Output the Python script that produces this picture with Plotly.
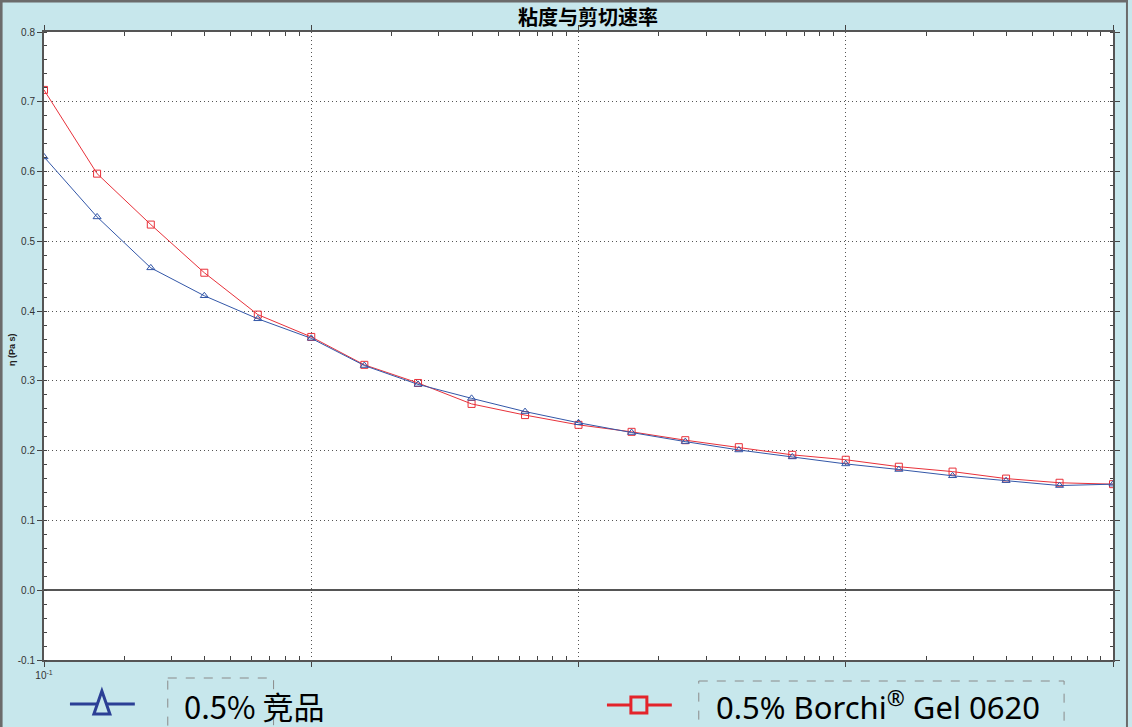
import plotly.graph_objects as go

shear_rate = [0.1, 0.158, 0.251, 0.398, 0.631, 1.0, 1.58, 2.51, 3.98, 6.31, 10.0,
              15.8, 25.1, 39.8, 63.1, 100.0, 158.0, 251.0, 398.0, 631.0, 1000.0]
visc_competitor = [0.621, 0.535, 0.462, 0.422, 0.389, 0.361, 0.322, 0.295, 0.275, 0.256, 0.240,
                   0.226, 0.213, 0.201, 0.191, 0.181, 0.173, 0.164, 0.157, 0.150, 0.152]
visc_borchi = [0.717, 0.597, 0.524, 0.455, 0.395, 0.363, 0.323, 0.297, 0.267, 0.251, 0.237,
               0.227, 0.215, 0.205, 0.194, 0.187, 0.177, 0.170, 0.160, 0.154, 0.152]
name_competitor = "0.5% 竞品"
name_borchi = "0.5% Borchi<sup>®</sup> Gel 0620"
title_text = "粘度与剪切速率"
y_tickvals = [-0.1, 0.0, 0.1, 0.2, 0.3, 0.4, 0.5, 0.6, 0.7, 0.8]
y_ticktext = ["-0.1", "0.0", "0.1", "0.2", "0.3", "0.4", "0.5", "0.6", "0.7", "0.8"]
x_tickvals = [0.1, 1, 10, 100, 1000]
x_ticktext = ["10<sup>-1</sup>", "", "", "", ""]
x_minor_vals = [m * d for d in [0.1, 1, 10, 100] for m in [2, 3, 4, 5, 6, 7, 8, 9]]

W, H = 1132, 727
L, R, T, B = 44, 1115, 32, 660
BG = "#c7e7ec"
BLUE = "#3357a8"
RED = "#e8313a"


def px(x):
    return (x - L) / (R - L)


def py(y):
    return (B - y) / (B - T)


fig = go.Figure()
fig.add_trace(go.Scatter(x=shear_rate, y=visc_borchi, mode="lines+markers", name="0.5% Borchi® Gel 0620",
                         line=dict(color=RED, width=1),
                         marker=dict(symbol="square-open", size=7, color=RED, line=dict(width=1))))
fig.add_trace(go.Scatter(x=shear_rate, y=visc_competitor, mode="lines+markers", name=name_competitor,
                         line=dict(color=BLUE, width=1),
                         marker=dict(symbol="triangle-up-open", size=7, color=BLUE, line=dict(width=1))))

shapes = []
# outer frame
shapes.append(dict(type="line", xref="paper", yref="paper", x0=px(1), x1=px(1), y0=py(0), y1=py(H),
                   line=dict(color="#6b6b6b", width=3)))
shapes.append(dict(type="line", xref="paper", yref="paper", x0=px(0), x1=px(1130), y0=py(1), y1=py(1),
                   line=dict(color="#6b6b6b", width=3)))
shapes.append(dict(type="line", xref="paper", yref="paper", x0=px(1129), x1=px(1129), y0=py(0), y1=py(H),
                   line=dict(color="#6b6b6b", width=2)))
# legend: competitor
shapes.append(dict(type="line", xref="paper", yref="paper", x0=px(70), x1=px(135), y0=py(704), y1=py(704),
                   line=dict(color="#2b3f95", width=3)))
shapes.append(dict(type="path", xref="paper", yref="paper",
                   path=f"M {px(102)},{py(691)} L {px(94)},{py(714)} L {px(110)},{py(714)} Z",
                   fillcolor=BG, line=dict(color="#2b3f95", width=3)))
shapes.append(dict(type="rect", xref="paper", yref="paper", x0=px(168), x1=px(274), y0=py(678), y1=py(740),
                   line=dict(color="#8a8a8a", width=1, dash="dash")))
# legend: borchi
shapes.append(dict(type="line", xref="paper", yref="paper", x0=px(608), x1=px(673), y0=py(705), y1=py(705),
                   line=dict(color="#e3242b", width=3)))
shapes.append(dict(type="rect", xref="paper", yref="paper", x0=px(632), x1=px(648), y0=py(697), y1=py(713),
                   fillcolor=BG, line=dict(color="#e3242b", width=3)))
shapes.append(dict(type="rect", xref="paper", yref="paper", x0=px(700), x1=px(1066), y0=py(681), y1=py(740),
                   line=dict(color="#8a8a8a", width=1, dash="dash")))

annotations = [
    dict(text=f"<b>{title_text}</b>", xref="paper", yref="paper", x=px(589), y=py(16),
         showarrow=False, xanchor="center", yanchor="middle",
         font=dict(family="Noto Sans CJK SC", size=20, color="#000000", weight=900)),
    dict(text="<b>η (Pa s)</b>", xref="paper", yref="paper", x=px(12), y=py(350), textangle=-90,
         showarrow=False, xanchor="center", yanchor="middle",
         font=dict(family="Liberation Sans", size=9, color="#222222")),
    dict(text=name_competitor, xref="paper", yref="paper", x=px(182), y=py(705),
         showarrow=False, xanchor="left", yanchor="middle",
         font=dict(family="Noto Sans CJK SC", size=31, color="#000000")),
    dict(text=name_borchi, xref="paper", yref="paper", x=px(715), y=py(705),
         showarrow=False, xanchor="left", yanchor="middle",
         font=dict(family="Noto Sans", size=31, color="#000000")),
]

fig.update_layout(
    width=W, height=H,
    margin=dict(l=L, r=W - R, t=T, b=H - B),
    paper_bgcolor=BG, plot_bgcolor="#ffffff",
    showlegend=False,
    shapes=shapes, annotations=annotations,
    xaxis=dict(type="log", range=[-1, 3], tickmode="array", tickvals=x_tickvals, ticktext=x_ticktext,
               showgrid=True, gridcolor="#555555", griddash="1px,3px", gridwidth=1,
               showline=True, linecolor="#555555", linewidth=2, mirror="allticks",
               ticks="outside", ticklen=5, tickcolor="#444444",
               minor=dict(tickmode="array", tickvals=x_minor_vals, ticks="inside", ticklen=4,
                          tickcolor="#444444", showgrid=False),
               tickfont=dict(family="Liberation Sans", size=10, color="#333333")),
    yaxis=dict(range=[-0.1, 0.8], tickmode="array", tickvals=y_tickvals, ticktext=y_ticktext,
               showgrid=True, gridcolor="#555555", griddash="1px,3px", gridwidth=1,
               zeroline=True, zerolinecolor="#555555", zerolinewidth=1.5,
               showline=True, linecolor="#555555", linewidth=2, mirror="allticks",
               ticks="outside", ticklen=5, tickcolor="#444444",
               minor=dict(ticks="inside", ticklen=3, dtick=0.02, tickcolor="#444444", showgrid=False),
               tickfont=dict(family="Liberation Sans", size=10, color="#333333")),
)

fig.write_html("out.html", config={"displayModeBar": False},
               post_script="document.body.style.margin='0';document.body.style.overflow='hidden';")
